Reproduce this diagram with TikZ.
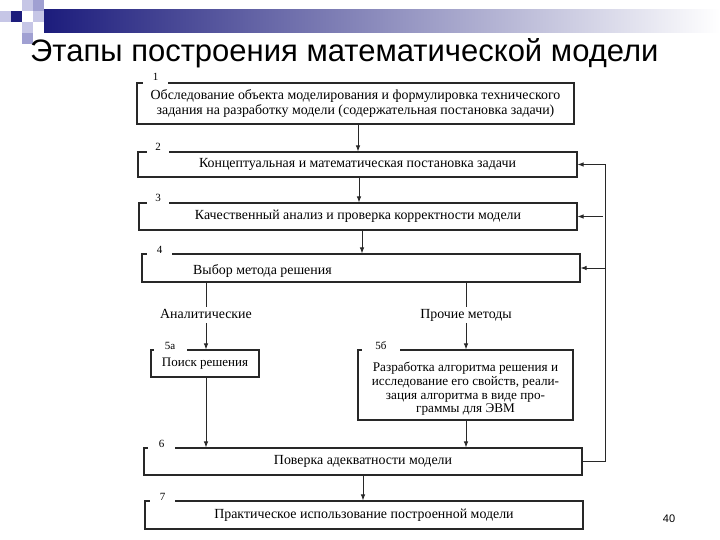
\documentclass[tikz,border=0pt]{standalone}
\usepackage{fontspec}
\setmainfont{Liberation Serif}
\newfontfamily\arialf{Liberation Sans}
\usetikzlibrary{arrows.meta,calc}
\definecolor{navy}{RGB}{28,28,124}
\definecolor{lav}{RGB}{198,198,230}
\definecolor{lav2}{RGB}{160,160,210}
\definecolor{edge}{RGB}{40,40,40}
\newcommand\btext{\fontsize{13.9}{15}\selectfont}
\tikzset{
 box/.style={draw=edge, line width=1.1pt, inner sep=0pt, font=\btext, align=center},
 num/.style={fill=white, font=\fontsize{11}{11}\selectfont, inner xsep=0pt, inner ysep=3pt, anchor=base},
 arr/.style={-{Latex[length=6pt,width=4.5pt]}, line width=0.9pt, draw=edge},
 ln/.style={line width=0.9pt, draw=edge},
 lbl/.style={font=\btext, inner sep=2pt, text height=9pt, text depth=3pt},
}
\begin{document}
\begin{tikzpicture}[x=1pt,y=-1pt]
\useasboundingbox (0,0) rectangle (720,540);
\fill[white] (0,0) rectangle (720,540);
% header decoration
\shade[left color=navy, right color=white] (44,10) rectangle (720,33);
\fill[lav] (0,11) rectangle (11,22);
\fill[navy] (11,11) rectangle (22,22);
\fill[lav] (22,0) rectangle (33,11);
\fill[lav2] (33,0) rectangle (44,11);
\fill[lav] (33,11) rectangle (44,22);
\fill[lav] (22,22) rectangle (33,33);
\fill[lav2] (22,33) rectangle (33,44);
% title and page number
\node[anchor=base west, font=\arialf\fontsize{31}{31}\selectfont, inner sep=0pt] (title) at (30,62) {Этапы построения математической модели};
\node[font=\arialf\fontsize{11}{11}\selectfont, inner sep=0pt] (pg) at (669,519) {40};
% boxes
\node[box, minimum width=437, minimum height=41] (b1) at (355.5,103.5) {Обследование объекта моделирования и формулировка технического\\задания на разработку модели (содержательная постановка задачи)};
\node[box, minimum width=439, minimum height=25] (b2) at (357.5,164.5) {Концептуальная и математическая постановка задачи};
\node[box, minimum width=438, minimum height=27] (b3) at (358,216.5) {Качественный анализ и проверка корректности модели};
\node[box, minimum width=438, minimum height=28] (b4) at (361,268) {};
\node[font=\btext, anchor=west, inner sep=0pt] (t4) at (193,271) {Выбор метода решения};
\node[box, minimum width=108, minimum height=27, font=\fontsize{13}{13}\selectfont] (b5a) at (205,363.5) {Поиск решения};
\node[box, minimum width=215, minimum height=70] (b5b) at (465.5,385) {};
\node[font=\fontsize{13.2}{13.6}\selectfont, align=center, inner sep=0pt] (t5b) at (465.5,389) {Разработка алгоритма решения и\\исследование его свойств, реали-\\зация алгоритма в виде про-\\граммы для ЭВМ};
\node[box, minimum width=438, minimum height=27] (b6) at (363,461.5) {Поверка адекватности модели};
\node[box, minimum width=438, minimum height=28] (b7) at (364,515) {Практическое использование построенной модели};
% number labels
\node[num, minimum width=25] (n1) at (155.5,81) {1};
\node[num, minimum width=22] (n2) at (158,151) {2};
\node[num, minimum width=22] (n3) at (158,202) {3};
\node[num, minimum width=25] (n4) at (159.5,253) {4};
\node[num, minimum width=33] (n5a) at (170,349) {5а};
\node[num, minimum width=38] (n5b) at (381,349) {5б};
\node[num, minimum width=27] (n6) at (161.5,447) {6};
\node[num, minimum width=25] (n7) at (162.5,500) {7};
% column coordinates
\coordinate (k12) at (358,0);
\coordinate (k23) at (359,0);
\coordinate (k34) at (362,0);
\coordinate (kL) at (206,0);
\coordinate (kR) at (466,0);
\coordinate (k67) at (363,0);
\coordinate (fbx) at (605,0);
% connectors
\draw[arr] (b1.south -| k12) -- (b2.north -| k12);
\draw[arr] (b2.south -| k23) -- (b3.north -| k23);
\draw[arr] (b3.south -| k34) -- (b4.north -| k34);
\node[lbl] (an) at (206,315) {Аналитические};
\node[lbl] (pm) at (466,315) {Прочие методы};
\draw[ln] (b4.south -| kL) -- (an.north -| kL);
\draw[arr] (an.south -| kL) -- (b5a.north -| kL);
\draw[ln] (b4.south -| kR) -- (pm.north -| kR);
\draw[arr] (pm.south -| kR) -- (b5b.north -| kR);
\draw[arr] (b5a.south -| kL) -- (b6.north -| kL);
\draw[arr] (b5b.south -| kR) -- (b6.north -| kR);
\draw[arr] (b6.south -| k67) -- (b7.north -| k67);
% feedback
\draw[ln] (b6.east) -| (b2.east -| fbx);
\draw[arr] (b2.east -| fbx) -- (b2.east);
\draw[arr] ($(b3.east -| fbx)+(-2,0)$) -- (b3.east);
\draw[arr] (b4.east -| fbx) -- (b4.east);
\end{tikzpicture}
\end{document}
